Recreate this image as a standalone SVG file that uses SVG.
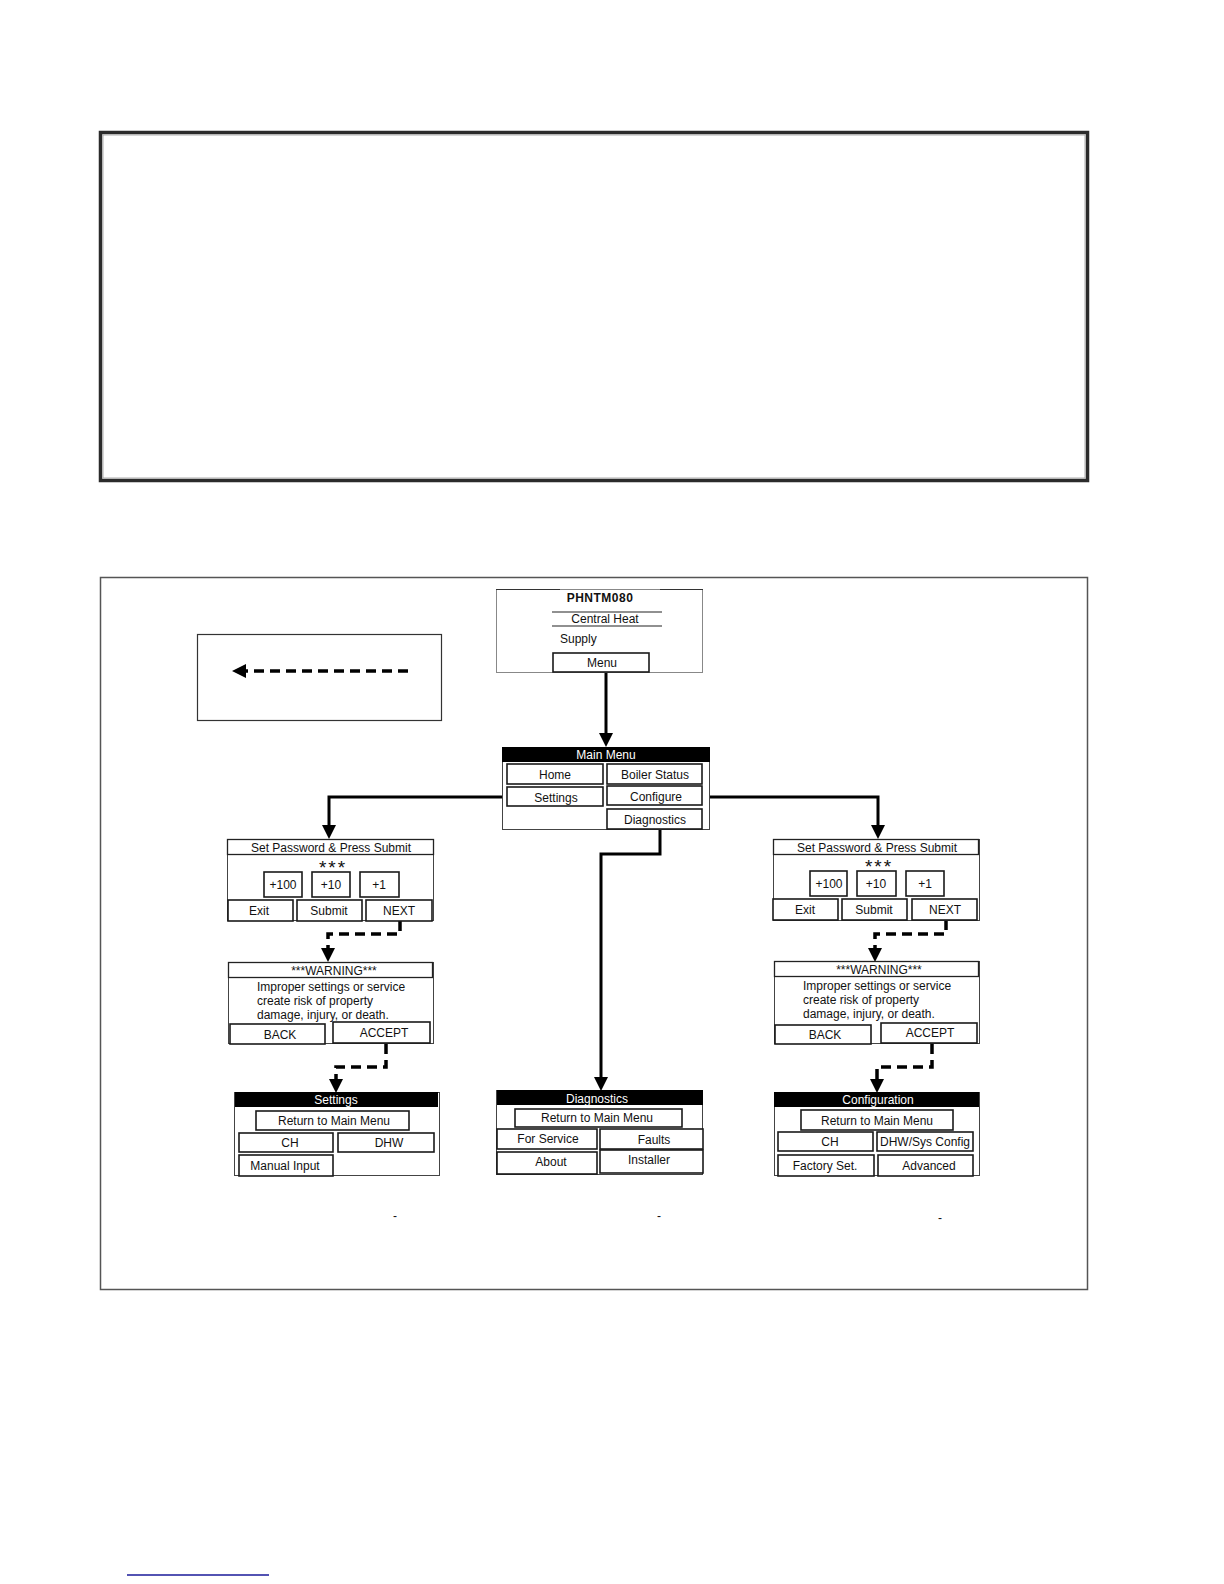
<svg xmlns="http://www.w3.org/2000/svg" width="1224" height="1584" viewBox="0 0 1224 1584">
<defs>
<style>
text{font-family:"Liberation Sans","DejaVu Sans",Arial,sans-serif;font-size:12px;fill:#111}
.c{text-anchor:middle}
.w{fill:#fff}
.frame{fill:#fff;stroke:#444;stroke-width:1}
.bar{fill:#000}
.tb{fill:#fff;stroke:#222;stroke-width:1.3}
.btn{fill:#fff;stroke:#1a1a1a;stroke-width:1.6}
.solid{fill:none;stroke:#000;stroke-width:3}
.dash{fill:none;stroke:#000;stroke-width:3.5;stroke-dasharray:10 6}
.stars{font-size:19px;letter-spacing:2px}
</style>
<marker id="ah" viewBox="0 0 14 14" refX="1" refY="7" markerWidth="14" markerHeight="14" markerUnits="userSpaceOnUse" orient="auto">
<path d="M0,0 L14,7 L0,14 z" fill="#000"/>
</marker>
</defs>
<rect width="1224" height="1584" fill="#fff"/>

<g id="top-box">
<rect x="100.5" y="132.5" width="987" height="348" fill="none" stroke="#2b2b2b" stroke-width="3.5"/>
<rect x="103" y="135" width="982" height="343" fill="none" stroke="#999" stroke-width="0.8"/>
</g>

<g id="figure-box">
<rect x="100.5" y="577.5" width="987" height="712" fill="none" stroke="#555" stroke-width="1.5"/>
</g>

<g id="legend">
<rect x="197.5" y="634.5" width="244" height="86" fill="none" stroke="#333" stroke-width="1.2"/>
<line x1="408" y1="671" x2="245" y2="671" class="dash" stroke-dasharray="11 6" marker-end="url(#ah)"/>
</g>

<g id="connectors">
<line x1="606" y1="672" x2="606" y2="734" class="solid" marker-end="url(#ah)"/>
<polyline points="507,797 329,797 329,826" class="solid" marker-end="url(#ah)"/>
<polyline points="702,797 878,797 878,826" class="solid" marker-end="url(#ah)"/>
<polyline points="660,829 660,854 601,854 601,1078" class="solid" marker-end="url(#ah)"/>
<polyline points="400,921 400,934 328,934 328,949" class="dash" marker-end="url(#ah)"/>
<polyline points="386,1044 386,1067 336,1067 336,1080" class="dash" marker-end="url(#ah)"/>
<polyline points="946,920 946,934 875,934 875,949" class="dash" marker-end="url(#ah)"/>
<polyline points="932,1044 932,1067 877,1067 877,1080" class="dash" marker-end="url(#ah)"/>
</g>

<g id="node-home-screen">
<rect x="496.5" y="589.5" width="206" height="83" fill="#fff" stroke="#888" stroke-width="1"/>
<line x1="496" y1="589.5" x2="560" y2="589.5" stroke="#333" stroke-width="1.2"/>
<line x1="660" y1="589.5" x2="703" y2="589.5" stroke="#333" stroke-width="1.2"/>
<text x="600" y="602" class="c" font-weight="bold" font-size="15.5" letter-spacing="0.5">PHNTM080</text>
<line x1="552" y1="612" x2="662" y2="612" stroke="#222" stroke-width="1.2"/>
<text x="605" y="623" class="c" font-size="12">Central Heat</text>
<line x1="552" y1="626" x2="662" y2="626" stroke="#222" stroke-width="1.2"/>
<text x="560" y="643" font-size="12.5">Supply</text>
<rect x="553" y="653" width="96" height="19" class="btn"/>
<text x="602" y="667" class="c">Menu</text>
</g>

<g id="node-main-menu">
<rect x="502.5" y="747.5" width="207" height="82" class="frame" stroke="#777"/>
<rect x="502" y="747" width="208" height="15" class="bar"/>
<text x="606" y="759" class="c w">Main Menu</text>
<rect x="507" y="764" width="96" height="20" class="btn"/>
<text x="555" y="779" class="c">Home</text>
<rect x="607" y="764" width="95" height="20" class="btn"/>
<text x="655" y="779" class="c">Boiler Status</text>
<rect x="507" y="787" width="96" height="19" class="btn"/>
<text x="556" y="802" class="c">Settings</text>
<rect x="607" y="786" width="95" height="19" class="btn"/>
<text x="656" y="801" class="c">Configure</text>
<rect x="607" y="809" width="95" height="20" class="btn"/>
<text x="655" y="824" class="c">Diagnostics</text>
</g>

<g id="node-password-left">
<rect x="227.5" y="839.5" width="206" height="81" class="frame"/>
<rect x="227.5" y="839.5" width="206" height="15" class="tb"/>
<text x="331" y="852" class="c" font-size="11.5">Set Password &amp; Press Submit</text>
<text x="333" y="874" class="c stars">***</text>
<rect x="264" y="872" width="38" height="25" class="btn"/>
<text x="283" y="889" class="c">+100</text>
<rect x="312" y="872" width="38" height="25" class="btn"/>
<text x="331" y="889" class="c">+10</text>
<rect x="360" y="872" width="39" height="25" class="btn"/>
<text x="379" y="889" class="c">+1</text>
<rect x="228" y="900" width="65" height="21" class="btn"/>
<text x="259" y="915" class="c">Exit</text>
<rect x="297" y="900" width="65" height="21" class="btn"/>
<text x="329" y="915" class="c">Submit</text>
<rect x="366" y="900" width="66" height="21" class="btn"/>
<text x="399" y="915" class="c">NEXT</text>
</g>

<g id="node-warning-left">
<rect x="228.5" y="962.5" width="205" height="81" class="frame"/>
<rect x="228.5" y="962.5" width="204" height="15" class="tb"/>
<text x="334" y="975" class="c" font-size="11.5">***WARNING***</text>
<text x="257" y="991" font-size="11.5">Improper settings or service</text>
<text x="257" y="1005" font-size="11.5">create risk of property</text>
<text x="257" y="1019" font-size="11.5">damage, injury, or death.</text>
<rect x="230" y="1024" width="95" height="20" class="btn"/>
<text x="280" y="1039" class="c">BACK</text>
<rect x="333" y="1022" width="97" height="21" class="btn"/>
<text x="384" y="1037" class="c">ACCEPT</text>
</g>

<g id="node-settings">
<rect x="234.5" y="1092.5" width="205" height="83" class="frame"/>
<rect x="235" y="1092" width="203" height="15" class="bar"/>
<text x="336" y="1104" class="c w">Settings</text>
<rect x="256" y="1111" width="153" height="19" class="btn"/>
<text x="334" y="1125" class="c">Return to Main Menu</text>
<rect x="239" y="1133" width="94" height="19" class="btn"/>
<text x="290" y="1147" class="c">CH</text>
<rect x="338" y="1133" width="96" height="19" class="btn"/>
<text x="389" y="1147" class="c">DHW</text>
<rect x="239" y="1155" width="94" height="21" class="btn"/>
<text x="285" y="1170" class="c">Manual Input</text>
</g>

<g id="node-diagnostics">
<rect x="496.5" y="1090.5" width="206" height="84" class="frame"/>
<rect x="497" y="1090" width="206" height="15" class="bar"/>
<text x="597" y="1103" class="c w">Diagnostics</text>
<rect x="515" y="1109" width="167" height="18" class="btn"/>
<text x="597" y="1122" class="c">Return to Main Menu</text>
<rect x="497" y="1129" width="100" height="20" class="btn"/>
<text x="548" y="1143" class="c">For Service</text>
<rect x="600" y="1129" width="103" height="20" class="btn"/>
<text x="654" y="1144" class="c">Faults</text>
<rect x="497" y="1152" width="100" height="22" class="btn"/>
<text x="551" y="1166" class="c">About</text>
<rect x="600" y="1150" width="103" height="23" class="btn"/>
<text x="649" y="1164" class="c">Installer</text>
</g>

<g id="node-password-right">
<rect x="773.5" y="839.5" width="206" height="81" class="frame"/>
<rect x="773.5" y="839.5" width="205" height="15" class="tb"/>
<text x="877" y="852" class="c" font-size="11.5">Set Password &amp; Press Submit</text>
<text x="879" y="873" class="c stars">***</text>
<rect x="810" y="871" width="37" height="25" class="btn"/>
<text x="829" y="888" class="c">+100</text>
<rect x="857" y="871" width="39" height="25" class="btn"/>
<text x="876" y="888" class="c">+10</text>
<rect x="906" y="871" width="38" height="25" class="btn"/>
<text x="925" y="888" class="c">+1</text>
<rect x="773" y="899" width="65" height="21" class="btn"/>
<text x="805" y="914" class="c">Exit</text>
<rect x="842" y="899" width="65" height="21" class="btn"/>
<text x="874" y="914" class="c">Submit</text>
<rect x="912" y="899" width="65" height="21" class="btn"/>
<text x="945" y="914" class="c">NEXT</text>
</g>

<g id="node-warning-right">
<rect x="774.5" y="961.5" width="205" height="82" class="frame"/>
<rect x="774.5" y="961.5" width="204" height="15" class="tb"/>
<text x="879" y="974" class="c" font-size="11.5">***WARNING***</text>
<text x="803" y="990" font-size="11.5">Improper settings or service</text>
<text x="803" y="1004" font-size="11.5">create risk of property</text>
<text x="803" y="1018" font-size="11.5">damage, injury, or death.</text>
<rect x="775" y="1025" width="96" height="19" class="btn"/>
<text x="825" y="1039" class="c">BACK</text>
<rect x="881" y="1023" width="96" height="20" class="btn"/>
<text x="930" y="1037" class="c">ACCEPT</text>
</g>

<g id="node-configuration">
<rect x="774.5" y="1092.5" width="205" height="83" class="frame"/>
<rect x="774" y="1092" width="205" height="15" class="bar"/>
<text x="878" y="1104" class="c w">Configuration</text>
<rect x="801" y="1110" width="152" height="20" class="btn"/>
<text x="877" y="1125" class="c">Return to Main Menu</text>
<rect x="778" y="1132" width="95" height="19" class="btn"/>
<text x="830" y="1146" class="c">CH</text>
<rect x="877" y="1132" width="96" height="19" class="btn"/>
<text x="925" y="1146" class="c">DHW/Sys Config</text>
<rect x="778" y="1155" width="96" height="21" class="btn"/>
<text x="825" y="1170" class="c">Factory Set.</text>
<rect x="878" y="1155" width="95" height="21" class="btn"/>
<text x="929" y="1170" class="c">Advanced</text>
</g>

<g id="marks">
<text x="395" y="1220" class="c" font-size="9">-</text>
<text x="659" y="1220" class="c" font-size="9">-</text>
<text x="940" y="1222" class="c" font-size="9">-</text>
</g>

<g id="footer">
<line x1="127" y1="1575" x2="269" y2="1575" stroke="#1a1a9a" stroke-width="1.5"/>
</g>
</svg>
